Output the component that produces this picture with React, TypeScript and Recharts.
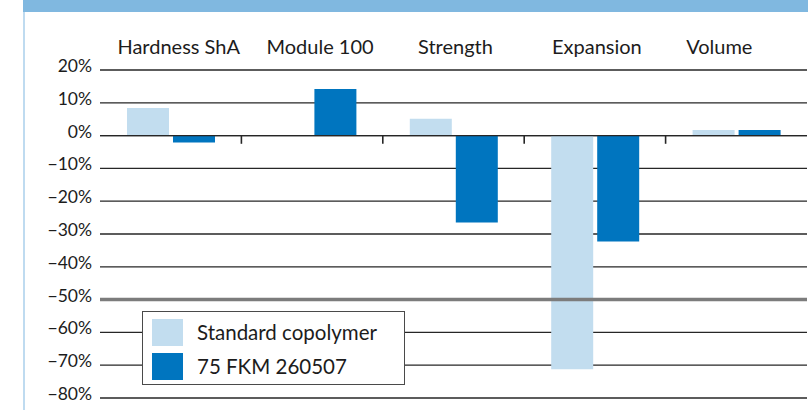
import {
  BarChart,
  Bar,
  XAxis,
  YAxis,
  CartesianGrid,
  ReferenceLine,
  Legend,
} from 'recharts'

const categories = ['Hardness ShA', 'Module 100', 'Strength', 'Expansion', 'Volume']
const standardCopolymer = [8.4, 0, 5.1, -71.2, 1.7]
const fkm260507 = [-2.1, 14.2, -26.5, -32.3, 1.7]
const seriesNames = ['Standard copolymer', '75 FKM 260507']
const yTicks = [20, 10, 0, -10, -20, -30, -40, -50, -60, -70, -80]

const colors = {
  light: '#c2ddef',
  dark: '#0075bf',
  banner: '#80b8e0',
  frame: '#bfdbf0',
  grid: '#262626',
  refLine: '#7c7c7c',
  text: '#1c1c1c',
}

const FONT = 'Lato, "DejaVu Sans", sans-serif'

// the labels in the original sit a little off the band centres
const labelShift = [8, 8, 2, 2, -17]

const data = categories.map((name, i) => ({
  name,
  standard: standardCopolymer[i],
  fkm: fkm260507[i],
}))

function CategoryTick(props: any) {
  const { x, y, payload, index } = props
  return (
    <text
      x={x + (labelShift[index] ?? 0)}
      y={y - 24}
      textAnchor="middle"
      dominantBaseline="central"
      fontFamily={FONT}
      fontSize={20}
      fill={colors.text}
    >
      {payload.value}
    </text>
  )
}

function PercentTick(props: any) {
  const { x, y, payload } = props
  const v = Number(payload.value)
  const label = `${v < 0 ? '\u2212' : ''}${Math.abs(v)}%`
  return (
    <text
      x={x}
      y={y - 4.5}
      textAnchor="end"
      dominantBaseline="central"
      fontFamily={FONT}
      fontSize={17.5}
      fill={colors.text}
    >
      {label}
    </text>
  )
}

function LegendBox({ payload }: any) {
  const items = [...(payload || [])].sort(
    (a: any, b: any) => seriesNames.indexOf(a.value) - seriesNames.indexOf(b.value)
  )
  return (
    <div
      style={{
        boxSizing: 'border-box',
        width: 263,
        height: 74,
        border: '1px solid #4a4a4a',
        background: '#fff',
        padding: '7px 0 0 9px',
        fontFamily: FONT,
        fontSize: 20.5,
        color: colors.text,
      }}
    >
      {items.map((entry: any, i: number) => (
        <div
          key={entry.value}
          style={{
            display: 'flex',
            alignItems: 'center',
            height: 27,
            marginTop: i === 0 ? 0 : 7,
          }}
        >
          <span
            style={{
              display: 'inline-block',
              width: 31,
              height: 27,
              background: entry.color,
              marginRight: 14,
            }}
          />
          <span style={{ lineHeight: '27px' }}>{entry.value}</span>
        </div>
      ))}
    </div>
  )
}

export default function App() {
  return (
    <div
      style={{
        position: 'absolute',
        left: 0,
        top: 0,
        width: 808,
        height: 410,
        background: '#fff',
        overflow: 'hidden',
      }}
    >
      <div
        style={{
          position: 'absolute',
          left: 23,
          top: 0,
          width: 785,
          height: 12,
          background: colors.banner,
        }}
      />
      <div
        style={{
          position: 'absolute',
          left: 23,
          top: 12,
          width: 2,
          height: 398,
          background: colors.frame,
        }}
      />
      <BarChart
        width={808}
        height={410}
        data={data}
        margin={{ top: 10, right: 1, bottom: 12, left: 0 }}
        barSize={42}
        barGap={4}
      >
        <CartesianGrid horizontal vertical={false} stroke={colors.grid} strokeWidth={1.3} />
        <XAxis
          dataKey="name"
          orientation="top"
          height={60}
          axisLine={false}
          tickLine={false}
          tickSize={0}
          tickMargin={0}
          interval={0}
          tick={<CategoryTick />}
        />
        <YAxis
          type="number"
          domain={[-80, 20]}
          ticks={yTicks}
          interval={0}
          width={100}
          axisLine={false}
          tickLine={false}
          tickSize={0}
          tickMargin={8}
          tick={<PercentTick />}
        />
        <Bar dataKey="standard" name={seriesNames[0]} fill={colors.light} isAnimationActive={false} />
        <Bar dataKey="fkm" name={seriesNames[1]} fill={colors.dark} isAnimationActive={false} />
        <ReferenceLine y={0} stroke={colors.grid} strokeWidth={1.3} />
        {categories.slice(1).map((c) => (
          <ReferenceLine
            key={c}
            position="start"
            segment={[
              { x: c, y: 0 },
              { x: c, y: -2.5 },
            ]}
            stroke={colors.grid}
            strokeWidth={1.6}
          />
        ))}
        <ReferenceLine y={-50} stroke={colors.refLine} strokeWidth={3.5} />
        <Legend
          layout="horizontal"
          verticalAlign="middle"
          align="center"
          itemSorter={null as any}
          wrapperStyle={{ left: 142, top: 311, width: 263, height: 74 }}
          content={<LegendBox />}
        />
      </BarChart>
    </div>
  )
}
